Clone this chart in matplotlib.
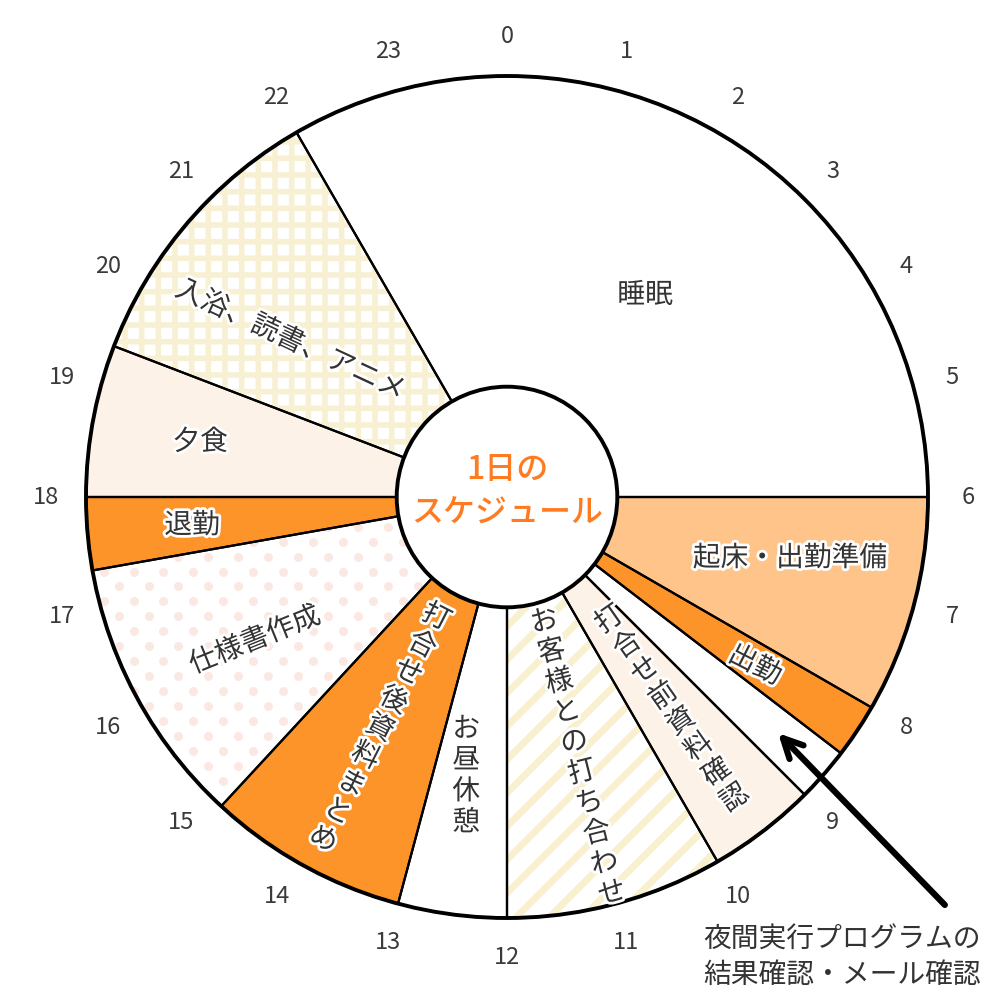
import numpy as np
import matplotlib.pyplot as plt
from matplotlib.patches import Circle
import matplotlib.patheffects as pe

plt.rcParams['font.family'] = ['Noto Sans CJK JP', 'DejaVu Sans']

# --- schedule data (clockwise from 22:00) ---
activities = ["睡眠", "起床・出勤準備", "出勤", "夜間実行プログラムの\n結果確認・メール確認",
              "打合せ前資料確認", "お客様との打ち合わせ", "お昼休憩", "打合せ後資料まとめ",
              "仕様書作成", "退勤", "夕食", "入浴、読書、アニメ"]
start_hours = [22, 6, 8, 8.5, 9, 10, 12, 13, 14.85, 17.33, 18, 19.4]
hour_ticks = list(range(24))

# --- styles ---
fill_colors = ['white', '#FFC48A', '#FD942A', 'white', '#FDF2E7', 'white',
               'white', '#FD942A', 'white', '#FD942A', '#FDF2E7', 'white']
hatches = [None, None, None, None, None, '/', None, None, 'dots', None, None, '+']
hatch_colors = ['none'] * 5 + ['#F9F0CF', 'none', 'none', '#FBE8E3', 'none', 'none', '#F8F0D2']
hatch_widths = [1] * 5 + [5, 1, 1, 1, 1, 1, 4]

# label layout: x, y, rotation, stacked vertically?
label_layout = [
    (0.328, 0.480, 0, False),
    (0.672, -0.145, 0, False),
    (0.589, -0.399, -27, False),
    None,
    (0.392, -0.503, 35, True),
    (0.169, -0.618, 14, True),
    (-0.097, -0.662, 0, True),
    (-0.302, -0.549, -27, True),
    (-0.599, -0.340, 22, False),
    (-0.748, -0.067, 0, False),
    (-0.729, 0.131, 0, False),
    (-0.515, 0.373, -25, False),
]

durations = [(start_hours[(i + 1) % len(start_hours)] - h) % 24 for i, h in enumerate(start_hours)]
text_color = '#333333'
outline = [pe.withStroke(linewidth=4, foreground='white')]

fig = plt.figure(figsize=(10, 10), dpi=100)
ax = fig.add_axes([0, 0, 1, 1])

start_angle = 90 - 15 * start_hours[0]

# filled wedges with textures
wedges, _ = ax.pie(durations, colors=fill_colors, startangle=start_angle, counterclock=False,
                   radius=1, wedgeprops=dict(linewidth=0))
for w, hatch, hc, hw in zip(wedges, hatches, hatch_colors, hatch_widths):
    if hatch == 'dots':
        # staggered polka dots, clipped to the wedge
        step = 0.071
        gx, gy = np.meshgrid(np.arange(-1.1, 1.1, step), np.arange(-1.1, 1.1, step / 2))
        row = np.round((gy + 1.1) / (step / 2)).astype(int)
        gx = gx + (row % 2) * step / 2
        dots = ax.scatter(gx.ravel(), gy.ravel(), s=42, color=hc, linewidths=0, zorder=1.5)
        dots.set_clip_path(w)
    elif hatch:
        w.set_hatch(hatch)
        w.set_edgecolor(hc)
        if hasattr(w, 'set_hatch_linewidth'):
            w.set_hatch_linewidth(hw)

# outlines
ax.pie(durations, colors=['none'] * len(durations), startangle=start_angle, counterclock=False,
       radius=1, wedgeprops=dict(linewidth=1.6, edgecolor='black', fill=False, zorder=2))
ax.add_patch(Circle((0, 0), 1, fill=False, lw=2.8, edgecolor='black', zorder=3))
ax.add_patch(Circle((0, 0), 0.262, facecolor='white', lw=2.8, edgecolor='black', zorder=4))

# pie() resets the limits, so set them afterwards
ax.set_xlim(-507 / 421, 493 / 421)
ax.set_ylim(-503 / 421, 497 / 421)
ax.set_aspect('equal')
ax.axis('off')

ax.text(0, 0.012, "1日の\nスケジュール", ha='center', va='center', fontsize=23,
        fontweight='medium', color='#FF7B22', linespacing=1.45, zorder=5)

# activity labels
for name, layout in zip(activities, label_layout):
    if layout is None:
        continue
    x, y, rot, vertical = layout
    s = "\n".join(name) if vertical else name
    ax.text(x, y, s, ha='center', va='center', rotation=rot, rotation_mode='anchor',
            fontsize=20, color=text_color, linespacing=1.05 if vertical else 1.2,
            path_effects=outline, zorder=6)

# hour labels
for h in hour_ticks:
    a = np.deg2rad(90 - 15 * h)
    ax.text(1.095 * np.cos(a), 1.095 * np.sin(a), str(h), ha='center', va='center',
            fontsize=17, color='#3a3a3a')

# callout for the thin white slice
ax.annotate("", xy=(0.644, -0.561), xytext=(1.040, -0.969),
            arrowprops=dict(arrowstyle='->,head_length=1.4,head_width=0.7', lw=4.5,
                            color='black', shrinkA=0, shrinkB=0), zorder=7)
ax.text(0.467, -1.093, activities[3], ha='left', va='center', fontsize=20,
        color=text_color, linespacing=1.25)

fig.savefig("out.png", dpi=100)
